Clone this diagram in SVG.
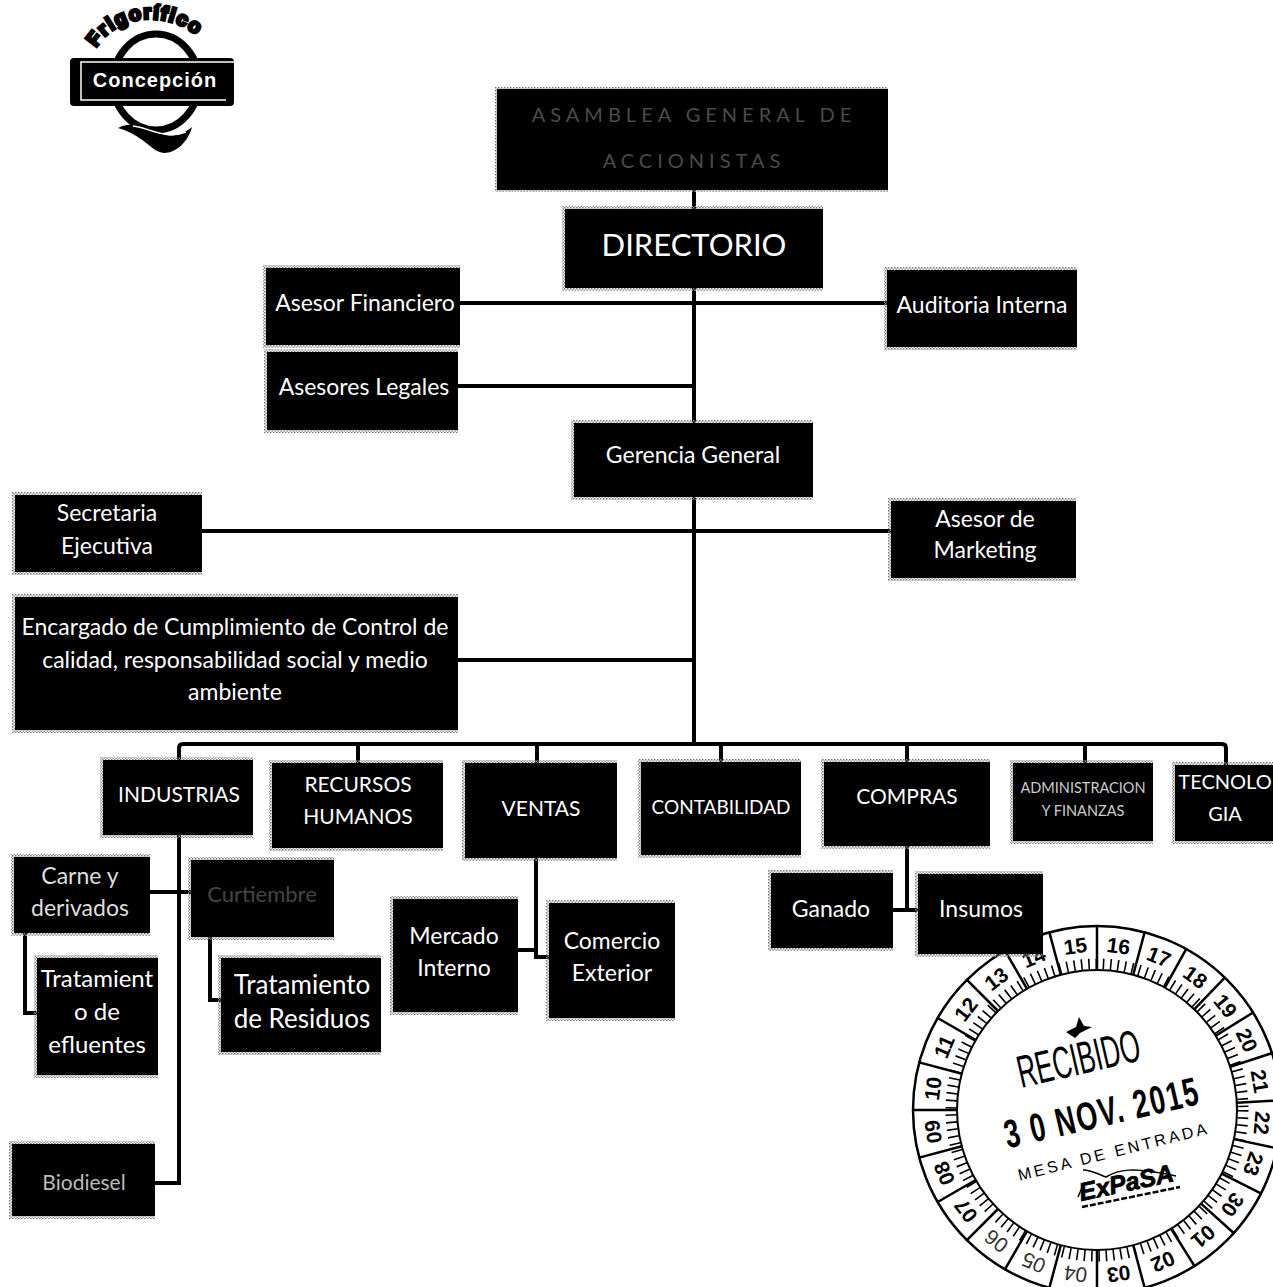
<svg xmlns="http://www.w3.org/2000/svg" xmlns:xlink="http://www.w3.org/1999/xlink" width="1273" height="1287" viewBox="0 0 1273 1287">
<style>
.b{fill:#000}
.h{fill:url(#dither)}
.t{font-family:Lato,"Open Sans","Liberation Sans",sans-serif;fill:#fff;text-anchor:middle;font-size:23px}
.u{font-size:21px}
.a{font-size:20px;letter-spacing:5px;fill:#4a4a4a}
.c{fill:none;stroke:#000;stroke-width:4}
.s{font-family:"Liberation Sans",sans-serif;font-weight:700;font-size:21px;text-anchor:middle;fill:#000}
.w{font-weight:400;fill:#333}
.st{font-family:"Liberation Sans",sans-serif;text-anchor:middle;fill:#000}
</style>
<defs>
<pattern id="dither" width="3" height="3" patternUnits="userSpaceOnUse"><rect width="1.5" height="1.5" fill="#777"/><rect x="1.5" y="1.5" width="1.5" height="1.5" fill="#999"/></pattern>
<line id="sep" x1="1097" y1="925" x2="1097" y2="970" stroke="#000" stroke-width="2.5"/>
<path id="arcF" d="M96 48 C120 8 186 8 214 56"/>
</defs>
<rect width="1273" height="1287" fill="#fff"/>

<g id="logo">
<ellipse cx="156" cy="82" rx="43" ry="48" fill="#fff" stroke="#000" stroke-width="7"/>
<rect x="70" y="58" width="164" height="48" rx="4" fill="#000"/>
<path d="M234 62 H81 V100 H226" fill="none" stroke="#fff" stroke-width="1.5"/>
<text x="155" y="87" font-family="'Liberation Sans',sans-serif" font-weight="700" font-size="20" letter-spacing="1" fill="#fff" text-anchor="middle">Concepción</text>
<text font-family="'Liberation Sans',sans-serif" font-weight="700" font-size="20" stroke="#000" stroke-width="3" fill="#000" letter-spacing="1.5"><textPath href="#arcF" xlink:href="#arcF">Frigorífico</textPath></text>
<path d="M118 128 C135 120 148 128 160 133 C172 138 182 135 192 127 C188 142 176 153 164 153 C150 151 145 136 118 128Z" fill="#000"/>
<path d="M133 126 C150 128 165 140 186 132" fill="none" stroke="#fff" stroke-width="1.5"/>
</g>

<g id="connectors">
<path class="c" d="M694 190 V744"/>
<path class="c" d="M458 303 H889"/>
<path class="c" d="M456 386 H694"/>
<path class="c" d="M200 531 H893"/>
<path class="c" d="M456 660 H694"/>
<path class="c" d="M179 762 V748 Q179 744 183 744 H1222 Q1226 744 1226 748 V767"/>
<path class="c" d="M358 744 V765 M537 744 V765 M721 744 V764 M907 744 V764 M1085 744 V765"/>
<path class="c" d="M179 833 V1183 H153"/>
<path class="c" d="M148 892 H193"/>
<path class="c" d="M25 931 V1013 H39"/>
<path class="c" d="M210 935 V1000 H223"/>
<path class="c" d="M536 856 V957 H551 M516 950 H536"/>
<path class="c" d="M907 844 V910 M891 910 H920"/>
</g>

<g id="asamblea"><rect class="h" x="495" y="87" width="393" height="105"/><rect class="b" x="497" y="89" width="391" height="101"/>
<text class="t a" x="694" y="122">ASAMBLEA GENERAL DE</text><text class="t a" x="694" y="168">ACCIONISTAS</text></g>
<g id="directorio"><rect class="h" x="562" y="206" width="261" height="85"/><rect class="b" x="565" y="209" width="258" height="79"/><text class="t" x="694" y="256" style="font-size:31px">DIRECTORIO</text></g>
<g id="asesor-financiero"><rect class="h" x="263" y="265" width="197" height="83"/><rect class="b" x="266" y="268" width="194" height="77"/><text class="t" x="365" y="311">Asesor Financiero</text></g>
<g id="auditoria"><rect class="h" x="884" y="267" width="193" height="83"/><rect class="b" x="887" y="270" width="190" height="77"/><text class="t" x="982" y="313">Auditoria Interna</text></g>
<g id="asesores-legales"><rect class="h" x="264" y="349" width="194" height="84"/><rect class="b" x="267" y="352" width="191" height="78"/><text class="t" x="364" y="395">Asesores Legales</text></g>
<g id="gerencia"><rect class="h" x="571" y="420" width="242" height="80"/><rect class="b" x="574" y="423" width="239" height="74"/><text class="t" x="693" y="463">Gerencia General</text></g>
<g id="secretaria"><rect class="h" x="12" y="492" width="190" height="83"/><rect class="b" x="15" y="495" width="187" height="77"/><text class="t" x="107" y="521">Secretaria</text><text class="t" x="107" y="554">Ejecutiva</text></g>
<g id="marketing"><rect class="h" x="888" y="498" width="188" height="83"/><rect class="b" x="891" y="501" width="185" height="77"/><text class="t" x="985" y="527">Asesor de</text><text class="t" x="985" y="558">Marketing</text></g>
<g id="encargado"><rect class="h" x="12" y="594" width="446" height="139"/><rect class="b" x="15" y="597" width="443" height="133"/><text class="t" x="235" y="635">Encargado de Cumplimiento de Control de</text><text class="t" x="235" y="668">calidad, responsabilidad social y medio</text><text class="t" x="235" y="700">ambiente</text></g>
<g id="industrias"><rect class="h" x="100" y="757" width="153" height="81"/><rect class="b" x="103" y="760" width="150" height="75"/><text class="t u" x="179" y="802">INDUSTRIAS</text></g>
<g id="rrhh"><rect class="h" x="269" y="760" width="174" height="91"/><rect class="b" x="272" y="763" width="171" height="85"/><text class="t u" x="358" y="792">RECURSOS</text><text class="t u" x="358" y="824">HUMANOS</text></g>
<g id="ventas"><rect class="h" x="462" y="760" width="155" height="101"/><rect class="b" x="465" y="763" width="152" height="95"/><text class="t u" x="541" y="816">VENTAS</text></g>
<g id="contabilidad"><rect class="h" x="638" y="759" width="163" height="99"/><rect class="b" x="641" y="762" width="160" height="93"/><text class="t" x="721" y="814" style="font-size:19px">CONTABILIDAD</text></g>
<g id="compras"><rect class="h" x="821" y="759" width="169" height="90"/><rect class="b" x="824" y="762" width="166" height="84"/><text class="t u" x="907" y="804">COMPRAS</text></g>
<g id="administracion"><rect class="h" x="1010" y="760" width="143" height="84"/><rect class="b" x="1013" y="763" width="140" height="78"/><text class="t" x="1083" y="793" style="font-size:14.5px;fill:#ccc">ADMINISTRACION</text><text class="t" x="1083" y="816" style="font-size:14.5px;fill:#ccc">Y FINANZAS</text></g>
<g id="tecnologia"><rect class="h" x="1172" y="762" width="101" height="82"/><rect class="b" x="1175" y="765" width="98" height="76"/><text class="t" x="1225" y="789" style="font-size:20px">TECNOLO</text><text class="t" x="1225" y="821" style="font-size:20px">GIA</text></g>
<g id="carne"><rect class="h" x="11" y="854" width="139" height="82"/><rect class="b" x="14" y="857" width="136" height="76"/><text class="t" x="80" y="884" style="fill:#ddd">Carne y</text><text class="t" x="80" y="916" style="fill:#ddd">derivados</text></g>
<g id="curtiembre"><rect class="h" x="188" y="857" width="146" height="83"/><rect class="b" x="191" y="860" width="143" height="77"/><text class="t" x="262" y="902" style="font-size:22px;fill:#444">Curtiembre</text></g>
<g id="efluentes"><rect class="h" x="34" y="955" width="124" height="123"/><rect class="b" x="37" y="958" width="121" height="117"/><text class="t" x="97" y="987" style="font-size:24px">Tratamient</text><text class="t" x="97" y="1020" style="font-size:24px">o de</text><text class="t" x="97" y="1053" style="font-size:24px">efluentes</text></g>
<g id="residuos"><rect class="h" x="218" y="955" width="163" height="100"/><rect class="b" x="221" y="958" width="160" height="94"/><text class="t" x="302" y="994" style="font-size:26px">Tratamiento</text><text class="t" x="302" y="1028" style="font-size:26px">de Residuos</text></g>
<g id="mercado"><rect class="h" x="390" y="896" width="128" height="119"/><rect class="b" x="393" y="899" width="125" height="113"/><text class="t" x="454" y="944">Mercado</text><text class="t" x="454" y="976">Interno</text></g>
<g id="comercio"><rect class="h" x="546" y="900" width="129" height="121"/><rect class="b" x="549" y="903" width="126" height="115"/><text class="t" x="612" y="949">Comercio</text><text class="t" x="612" y="981">Exterior</text></g>
<g id="ganado"><rect class="h" x="768" y="870" width="125" height="81"/><rect class="b" x="771" y="873" width="122" height="75"/><text class="t" x="831" y="917">Ganado</text></g>
<g id="biodiesel"><rect class="h" x="9" y="1141" width="146" height="78"/><rect class="b" x="12" y="1144" width="143" height="72"/><text class="t" x="84" y="1190" style="font-size:21px;fill:#bbb">Biodiesel</text></g>

<g id="sello">
<circle cx="1097" cy="1110" r="184" fill="none" stroke="#000" stroke-width="2.5"/>
<circle cx="1097" cy="1110" r="140" fill="none" stroke="#000" stroke-width="2"/>
<circle cx="1097" cy="1110" r="146" fill="none" stroke="#000" stroke-width="11" stroke-dasharray="1.6 5.7"/>
<g id="separadores"><use href="#sep"/><use href="#sep" transform="rotate(15 1097 1110)"/><use href="#sep" transform="rotate(29 1097 1110)"/><use href="#sep" transform="rotate(44 1097 1110)"/><use href="#sep" transform="rotate(58 1097 1110)"/><use href="#sep" transform="rotate(72 1097 1110)"/><use href="#sep" transform="rotate(87 1097 1110)"/><use href="#sep" transform="rotate(102 1097 1110)"/><use href="#sep" transform="rotate(117 1097 1110)"/><use href="#sep" transform="rotate(132 1097 1110)"/><use href="#sep" transform="rotate(148 1097 1110)"/><use href="#sep" transform="rotate(165 1097 1110)"/><use href="#sep" transform="rotate(180 1097 1110)"/><use href="#sep" transform="rotate(195 1097 1110)"/><use href="#sep" transform="rotate(210 1097 1110)"/><use href="#sep" transform="rotate(225 1097 1110)"/><use href="#sep" transform="rotate(240 1097 1110)"/><use href="#sep" transform="rotate(255 1097 1110)"/><use href="#sep" transform="rotate(270 1097 1110)"/><use href="#sep" transform="rotate(285 1097 1110)"/><use href="#sep" transform="rotate(300 1097 1110)"/><use href="#sep" transform="rotate(315 1097 1110)"/><use href="#sep" transform="rotate(330 1097 1110)"/><use href="#sep" transform="rotate(345 1097 1110)"/></g>
<g id="dias">
<text class="s" x="1097" y="952" transform="rotate(-7.5 1097 1110)">15</text>
<text class="s" x="1097" y="952" transform="rotate(7.5 1097 1110)">16</text>
<text class="s" x="1097" y="952" transform="rotate(22 1097 1110)">17</text>
<text class="s" x="1097" y="952" transform="rotate(36.5 1097 1110)">18</text>
<text class="s" x="1097" y="952" transform="rotate(51 1097 1110)">19</text>
<text class="s" x="1097" y="952" transform="rotate(65 1097 1110)">20</text>
<text class="s" x="1097" y="952" transform="rotate(80 1097 1110)">21</text>
<text class="s" x="1097" y="952" transform="rotate(94.5 1097 1110)">22</text>
<text class="s" x="1097" y="952" transform="rotate(109 1097 1110)">23</text>
<text class="s" x="1097" y="952" transform="rotate(125 1097 1110)">30</text>
<text class="s" x="1097" y="952" transform="rotate(140 1097 1110)">01</text>
<text class="s" x="1097" y="952" transform="rotate(156.5 1097 1110)">02</text>
<text class="s" x="1097" y="952" transform="rotate(172.5 1097 1110)">03</text>
<text class="s w" x="1097" y="952" transform="rotate(187.5 1097 1110)">04</text>
<text class="s w" x="1097" y="952" transform="rotate(202.5 1097 1110)">05</text>
<text class="s w" x="1097" y="952" transform="rotate(217.5 1097 1110)">06</text>
<text class="s" x="1097" y="952" transform="rotate(232.5 1097 1110)">07</text>
<text class="s" x="1097" y="952" transform="rotate(247.5 1097 1110)">08</text>
<text class="s" x="1097" y="952" transform="rotate(262.5 1097 1110)">09</text>
<text class="s" x="1097" y="952" transform="rotate(277.5 1097 1110)">10</text>
<text class="s" x="1097" y="952" transform="rotate(292.5 1097 1110)">11</text>
<text class="s" x="1097" y="952" transform="rotate(307.5 1097 1110)">12</text>
<text class="s" x="1097" y="952" transform="rotate(322.5 1097 1110)">13</text>
<text class="s" x="1097" y="952" transform="rotate(337.5 1097 1110)">14</text>
</g>
<path d="M1066 1032 L1076 1027 L1079 1017 L1084 1026 L1092 1027 L1080 1033 L1075 1038 Z" fill="#000"/>
<text class="st" transform="translate(1082 1074) rotate(-13) scale(0.68 1.2)" font-size="38">RECIBIDO</text>
<text class="st" transform="translate(1105 1126) rotate(-13) scale(0.85 1.25)" font-size="32" font-weight="700" letter-spacing="2">3 0 NOV. 2015</text>
<text class="st" transform="translate(1115 1157) rotate(-14)" font-size="16" letter-spacing="3">MESA DE ENTRADA</text>
<path d="M1078 1197 L1084 1183 M1083 1170 C1092 1170 1100 1175 1106 1177 C1118 1170 1130 1166 1176 1176" fill="none" stroke="#000" stroke-width="1.5"/>
<text class="st" transform="translate(1128 1191) rotate(-12)" font-size="25" font-weight="700" font-style="italic" stroke="#000" stroke-width="0.8">ExPaSA</text>
<path d="M1082 1207 L1180 1187" stroke="#000" stroke-width="2.5" stroke-dasharray="6 2" fill="none"/>
</g>
<g id="insumos"><rect class="h" x="915" y="871" width="128" height="86"/><rect class="b" x="918" y="874" width="125" height="80"/><text class="t" x="981" y="917">Insumos</text></g>
</svg>
